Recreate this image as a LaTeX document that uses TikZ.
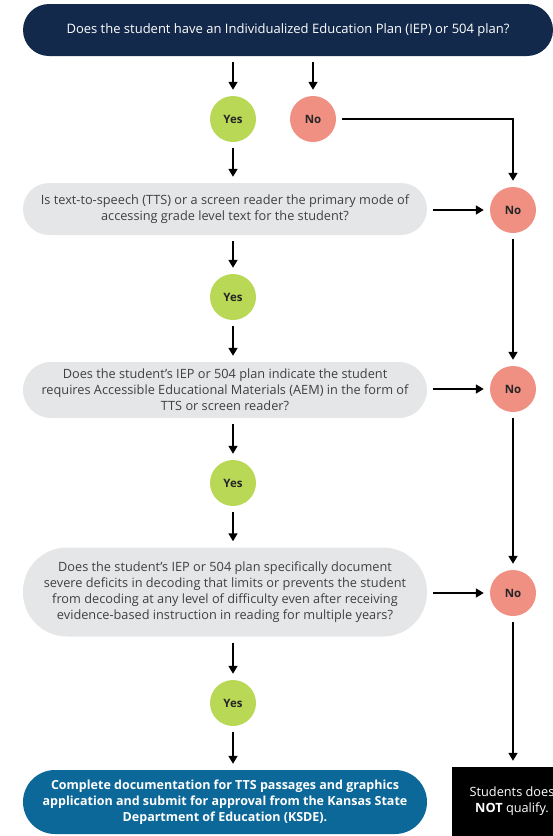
\documentclass[tikz,border=0pt]{standalone}
\usepackage{fontspec}
\setmainfont{Open Sans}
\usetikzlibrary{arrows.meta}
\definecolor{navy}{RGB}{19,41,75}
\definecolor{qgray}{RGB}{229,230,231}
\definecolor{yesgreen}{RGB}{184,216,86}
\definecolor{nosalmon}{RGB}{239,144,131}
\definecolor{kblue}{RGB}{12,104,152}
\def\yesnodes{{(233,119)/y1}, {(233,297)/y2}, {(233,483)/y3}, {(233,703)/y4}}
\def\nonodes{{(313,119)/n0}, {(513,210)/n1}, {(513,389)/n2}, {(513,593)/n3}}
\tikzset{
  answer/.style={circle, minimum size=46pt, inner sep=0pt, text=black!85, font=\fontsize{11.5}{13}\selectfont\bfseries},
  yes/.style={answer, fill=yesgreen},
  no/.style={answer, fill=nosalmon}
  }
\tikzstyle{question} = [rectangle, fill=qgray, minimum width=404pt, inner sep=0pt, align=center, text=black!75, font=\fontsize{12.75}{16}\selectfont]
\tikzstyle{flow} = [draw, line width=1.5pt, -{Triangle[length=8pt,width=9pt]}, shorten <=6pt, shorten >=6pt]

\begin{document}
\begin{tikzpicture}[x=1pt, y=-1pt]

  % Page frame
  \useasboundingbox (0,0) rectangle (553,836);
  \clip (0,0) rectangle (553,836);

  % The questions
  \node[question, fill=navy, text=white, minimum width=530pt, minimum height=52pt, rounded corners=26pt, font=\fontsize{13}{16}\selectfont] (q0) at (288,30) {Does the student have an Individualized Education Plan (IEP) or 504 plan?};
  \node[question, minimum height=52pt, rounded corners=26pt] (q1) at (225,209) {Is text-to-speech (TTS) or a screen reader the primary mode of\\accessing grade level text for the student?};
  \node[question, minimum height=56pt, rounded corners=28pt] (q2) at (225,390) {Does the student's IEP or 504 plan indicate the student\\requires Accessible Educational Materials (AEM) in the form of\\TTS or screen reader?};
  \node[question, minimum height=89pt, rounded corners=44pt] (q3) at (225,592) {Does the student's IEP or 504 plan specifically document\\severe deficits in decoding that limits or prevents the student\\from decoding at any level of difficulty even after receiving\\evidence-based instruction in reading for multiple years?};

  % The outcomes
  \node[question, fill=kblue, text=white, minimum height=64pt, rounded corners=32pt, font=\fontsize{12.5}{16}\selectfont\bfseries] (done) at (225,802) {Complete documentation for TTS passages and graphics\\application and submit for approval from the Kansas State\\Department of Education (KSDE).};
  \node[question, fill=black, text=white, minimum width=120pt, minimum height=69pt] (stop) at (512,801.5) {Students does\\\textbf{NOT} qualify.};

  % the answers
  \foreach \pos/\name in \yesnodes
    \node[yes] (\name) at \pos {Yes};
  \foreach \pos/\name in \nonodes
    \node[no] (\name) at \pos {No};

  % The yes path
  \foreach \source/\sink in {q0/y1, q1/y2, q2/y3, q3/y4}
    \path[flow] (\source.south -| \sink) -- (\sink);
  \foreach \source/\sink in {y1/q1, y2/q2, y3/q3, y4/done}
    \path[flow] (\source) -- (\source |- \sink.north);

  % The no path
  \path[flow] (q0.south -| n0) -- (n0);
  \foreach \source/\sink in {q1/n1, q2/n2, q3/n3}
    \path[flow] (\source.east |- \sink) -- (\sink);
  \path[flow] (n0) -| (n1);
  \foreach \source/\sink in {n1/n2, n2/n3}
    \path[flow] (\source) -- (\sink);
  \path[flow] (n3) -- (n3 |- stop.north);
\end{tikzpicture}
\end{document}
